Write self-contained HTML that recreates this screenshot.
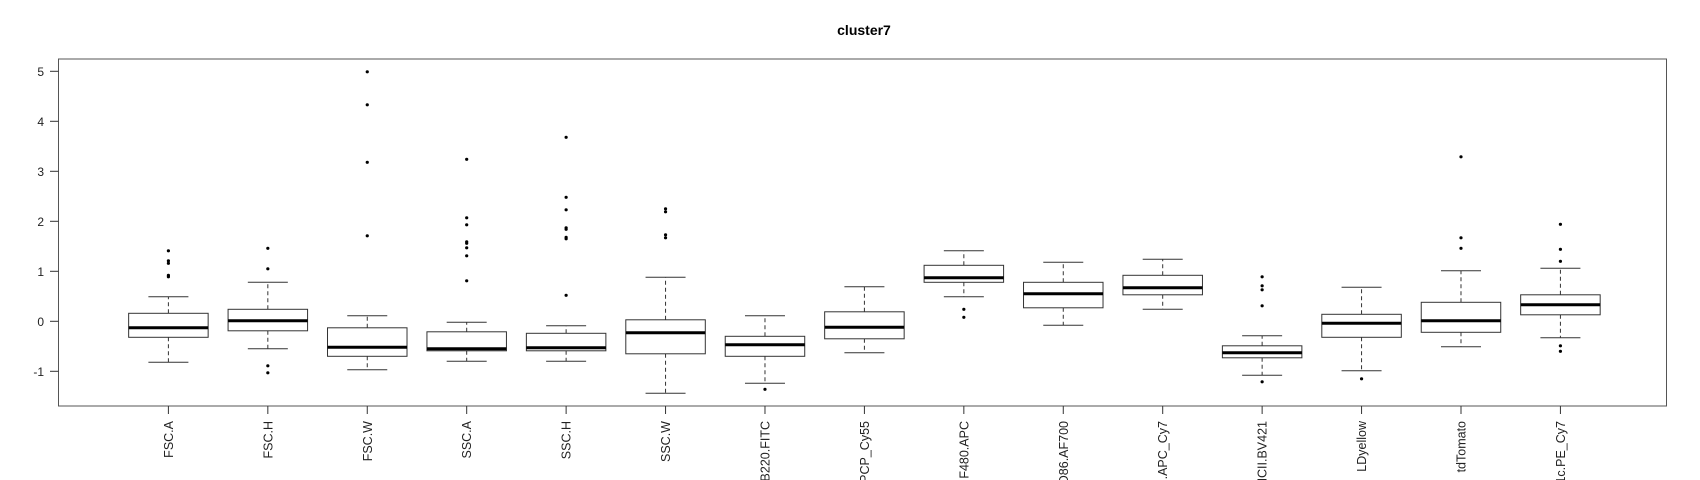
<!DOCTYPE html>
<html><head><meta charset="utf-8"><style>
html,body{margin:0;padding:0;background:#fff;width:1700px;height:480px;overflow:hidden;}
svg{display:block;font-family:"Liberation Sans",Arial,sans-serif;overflow:hidden;}
</style></head><body>
<svg id="chart" width="1700" height="480" viewBox="0 0 1700 480">
<defs><clipPath id="clipall"><rect x="0" y="0" width="1700" height="480"/></clipPath></defs>
<text x="864" y="35" text-anchor="middle" font-size="14" font-weight="bold">cluster7</text>
<rect x="58.5" y="59" width="1608" height="347" fill="none" stroke="#555" stroke-width="1"/>
<g id="yaxis"></g>
<g id="xaxis" clip-path="url(#clipall)"></g>
<g id="boxes"></g>
</svg>
<script>
const categories = ["FSC.A","FSC.H","FSC.W","SSC.A","SSC.H","SSC.W","B220.FITC","Ly6C.PCP_Cy55","F480.APC","CD86.AF700","CD11b.APC_Cy7","MHCII.BV421","LDyellow","tdTomato","CD11c.PE_Cy7"];
const whiskerLow = [-0.82,-0.55,-0.97,-0.80,-0.80,-1.44,-1.24,-0.63,0.49,-0.08,0.24,-1.08,-0.99,-0.51,-0.33];
const q1 = [-0.32,-0.19,-0.70,-0.59,-0.59,-0.65,-0.70,-0.35,0.78,0.27,0.53,-0.73,-0.32,-0.22,0.13];
const medians = [-0.13,0.01,-0.52,-0.55,-0.53,-0.23,-0.47,-0.12,0.87,0.55,0.67,-0.63,-0.04,0.01,0.33];
const q3 = [0.16,0.24,-0.13,-0.21,-0.24,0.03,-0.30,0.19,1.12,0.78,0.92,-0.49,0.14,0.38,0.53];
const whiskerHigh = [0.49,0.78,0.11,-0.02,-0.09,0.88,0.11,0.69,1.41,1.18,1.24,-0.29,0.68,1.01,1.06];
const outliers = [
 [1.41,1.21,1.16,0.92,0.89],
 [1.46,1.05,-0.89,-1.03],
 [4.99,4.33,3.18,1.71],
 [3.24,2.07,1.93,1.59,1.56,1.47,1.31,0.81],
 [3.68,2.48,2.23,1.87,1.84,1.68,1.65,0.52],
 [2.25,2.19,1.73,1.67],
 [-1.36],
 [],
 [0.24,0.08],
 [],
 [],
 [0.89,0.71,0.63,0.31,-1.21],
 [-1.15],
 [3.29,1.67,1.46],
 [1.94,1.44,1.20,-0.49,-0.60]
];
const yTicks = [-1,0,1,2,3,4,5];

const NS="http://www.w3.org/2000/svg";
function yScale(v){return 321.3 - v*50;}
function xScale(i){return 168.4 + i*99.43;}
const boxW = 79.5, capW = 40;
function mk(tag, attrs, parent){const e=document.createElementNS(NS,tag);for(const k in attrs)e.setAttribute(k,attrs[k]);parent.appendChild(e);return e;}

const ya=document.getElementById('yaxis');
yTicks.forEach(t=>{
  const y=yScale(t);
  const l=mk('line',{x1:50,x2:58.5,y1:y,y2:y,stroke:'#333'},ya);
  
  
  const tx=mk('text',{x:44,y:y+4.5,'text-anchor':'end','font-size':12,fill:'#222'},ya);
  tx.textContent=String(t);
  
  
});

const xa=document.getElementById('xaxis');
const bx=document.getElementById('boxes');
categories.forEach((c,i)=>{
  const x=xScale(i);
  const tk=mk('line',{x1:x,x2:x,y1:406,y2:414,stroke:'#333'},xa);
  
  
  const tx=mk('text',{x:x+4.5,y:421,'text-anchor':'end','font-size':12.5,fill:'#222',transform:`rotate(-90 ${x+4.5} 421)`},xa);
  tx.textContent=c;
  
  

  const g=mk('g',{},bx);
  
  
  const yl=yScale(whiskerLow[i]), y1=yScale(q1[i]), ym=yScale(medians[i]), y3=yScale(q3[i]), yh=yScale(whiskerHigh[i]);
  mk('line',{x1:x,x2:x,y1:y3,y2:yh,stroke:'#333','stroke-dasharray':'4,3'},g);
  mk('line',{x1:x,x2:x,y1:y1,y2:yl,stroke:'#333','stroke-dasharray':'4,3'},g);
  mk('line',{x1:x-capW/2,x2:x+capW/2,y1:yh,y2:yh,stroke:'#333'},g);
  mk('line',{x1:x-capW/2,x2:x+capW/2,y1:yl,y2:yl,stroke:'#333'},g);
  mk('rect',{x:x-boxW/2,y:y3,width:boxW,height:Math.max(y1-y3,0.5),fill:'#fff',stroke:'#333'},g);
  mk('line',{x1:x-boxW/2,x2:x+boxW/2,y1:ym,y2:ym,stroke:'#000','stroke-width':3},g);
  outliers[i].forEach(v=>{
    const p=mk('circle',{cx:x,cy:yScale(v),r:1.6,fill:'#000'},g);
    
    
  });
});
</script>
</body></html>
